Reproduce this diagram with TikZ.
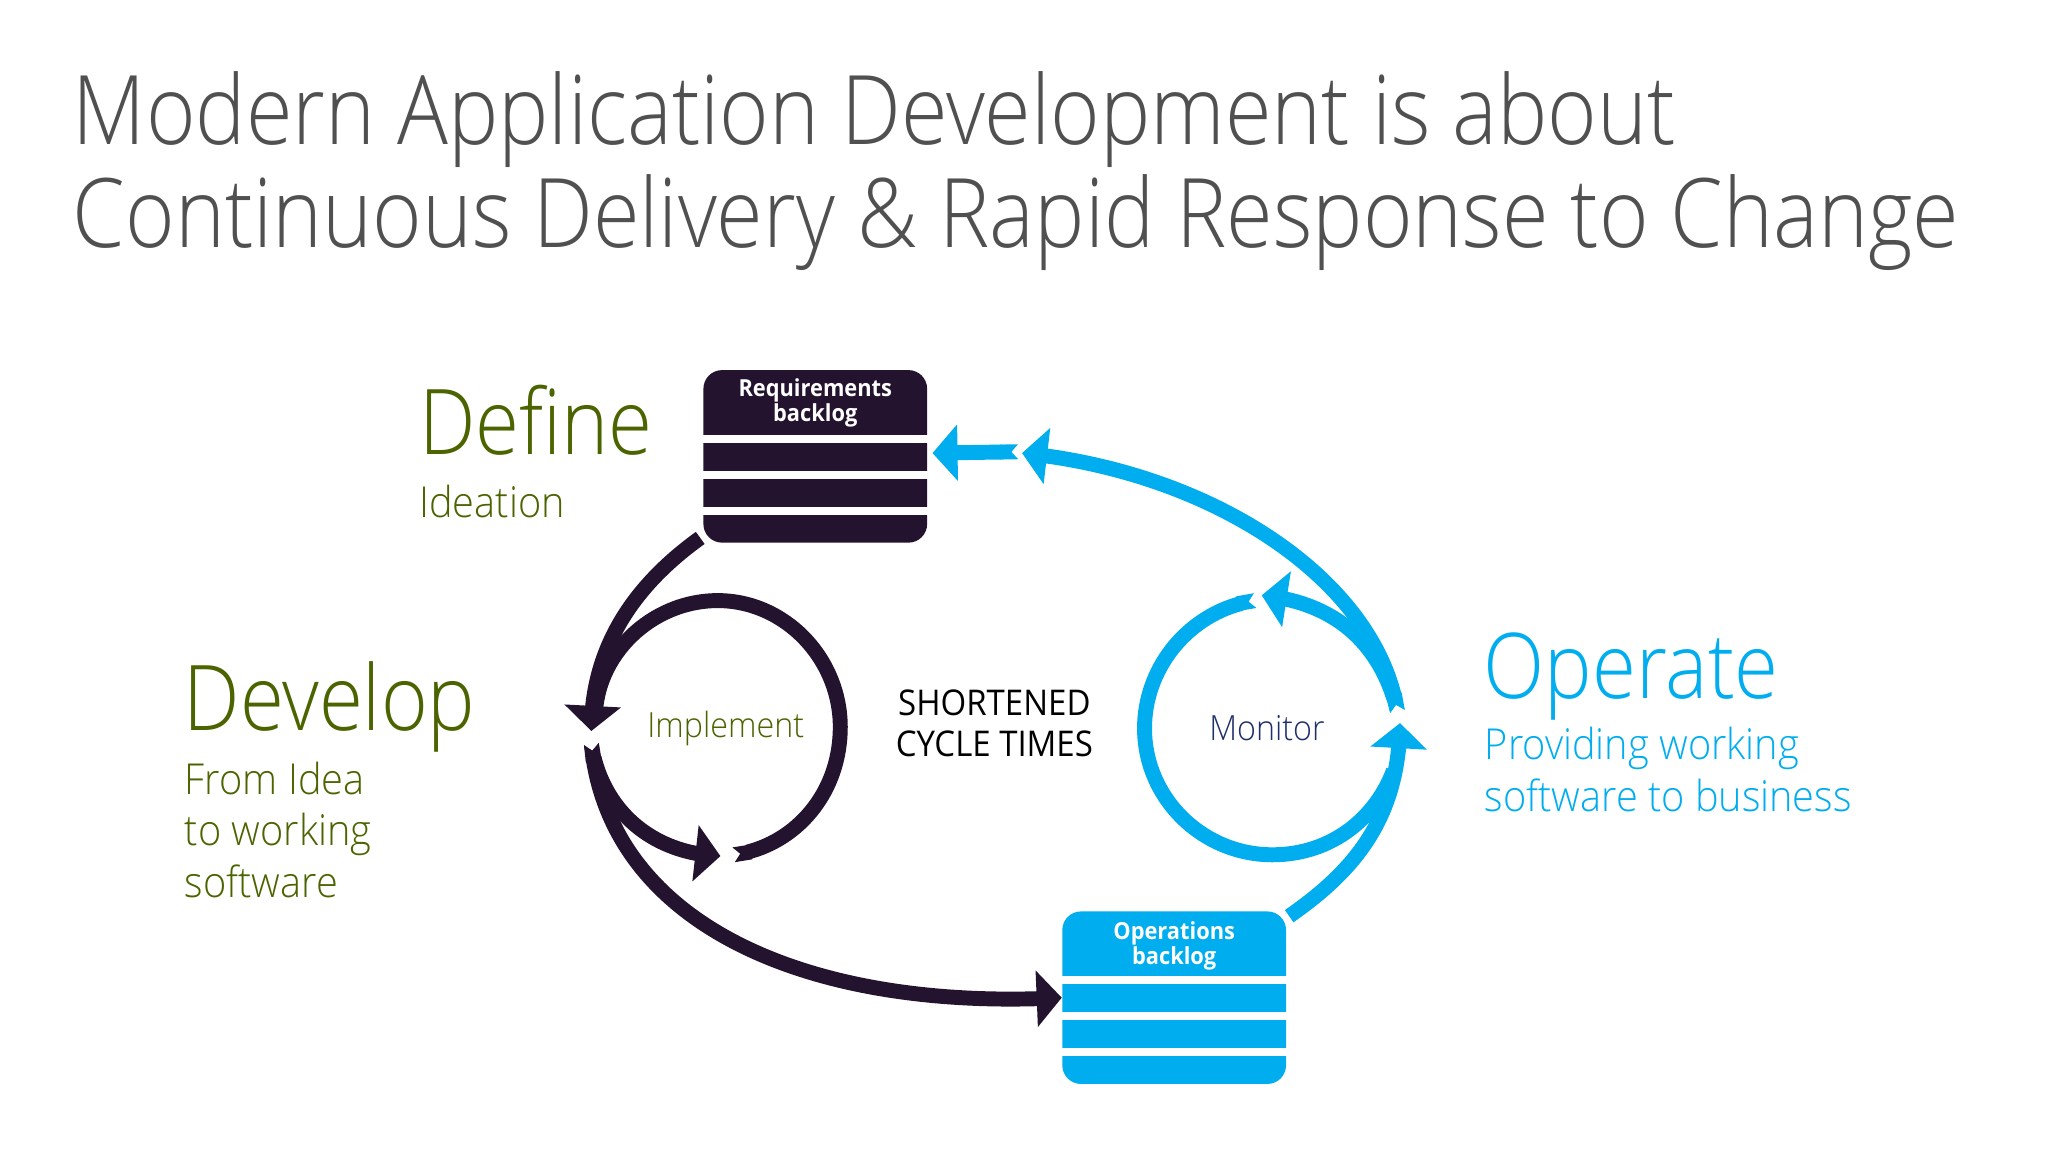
\documentclass[tikz,border=0pt]{standalone}
\usepackage{fontspec}
\setmainfont{Open Sans}[FakeStretch=0.93]
\newfontfamily\lightf{Open Sans Light}[FakeStretch=0.882]
\newfontfamily\subf{Open Sans Light}[FakeStretch=0.93]
\usetikzlibrary{arrows.meta,bending}
\definecolor{dark}{HTML}{23132F}
\definecolor{sky}{HTML}{00ADEF}
\definecolor{leaf}{HTML}{4B6400}
\definecolor{slate}{HTML}{505050}
\definecolor{navy}{HTML}{1F2F6B}
\tikzset{
  x=0.49389pt,y=-0.49389pt,
  conn/.style={line width=5.6pt,line cap=butt},
  head/.style={-{Triangle[length=9.4pt,width=20.7pt,flex]}},
  notched/.style={{Triangle Cap[reversed,length=2.5pt]}-{Triangle[length=9.4pt,width=20.7pt,flex]}},
  tailonly/.style={{Triangle Cap[reversed,length=2.5pt]}-},
  dk/.style={conn,draw=dark},
  bl/.style={conn,draw=sky},
  box/.style={rectangle,rounded corners=7pt,minimum width=83.9pt,minimum height=64.7pt,inner sep=0pt},
  stripe/.style={rectangle,fill=white,minimum width=84.5pt,minimum height=3pt,inner sep=0pt},
  boxlabel/.style={text=white,font=\fontsize{8.8}{9.5}\selectfont\bfseries,align=center,inner sep=0pt},
  title/.style={text=slate,font=\lightf\fontsize{36}{40}\selectfont,anchor=base west,inner sep=0pt},
  big/.style={font=\lightf\fontsize{34}{40}\selectfont,anchor=base west,inner sep=0pt},
  sub/.style={font=\subf\fontsize{16}{19.3}\selectfont,anchor=base west,inner sep=0pt},
  small/.style={font=\subf\fontsize{13}{15}\selectfont,inner sep=0pt},
}
\begin{document}
\begin{tikzpicture}
\useasboundingbox[fill=white] (0pt,0pt) rectangle (768pt,-432pt);
% titles
\node[title] (t1) at (55,110) {Modern Application Development is about};
\node[title] (t2) at (55,188) {Continuous Delivery \& Rapid Response to Change};
% boxes
\node[box,fill=dark] (req) at (619,346.5) {};
\node[stripe] (rs1) at (619,333) {};
\node[stripe] (rs2) at (619,360.5) {};
\node[stripe] (rs3) at (619,388) {};
\node[boxlabel] (rl) at (619,306) {Requirements\\backlog};
\node[box,fill=sky] (ops) at (891.5,757.5) {};
\node[stripe] (os1) at (891.5,744) {};
\node[stripe] (os2) at (891.5,771.5) {};
\node[stripe] (os3) at (891.5,799) {};
\node[boxlabel] (ol) at (891.5,718) {Operations\\backlog};
% anchors of connectors
\coordinate (devTip) at (449,555);
\coordinate (devTail) at (449,565);
\coordinate (ringLeft) at (452,545);
\coordinate (ringTop) at (545,456);
\coordinate (ringRight) at (638,552);
\coordinate (ringEnd) at (557,649);
\coordinate (impTip) at (547,650);
\coordinate (monTail) at (953,456);
\coordinate (monLeft) at (869,553);
\coordinate (monBot) at (966,649);
\coordinate (opTip) at (1063,549);
\coordinate (opTail) at (1061,540);
\coordinate (monTip) at (958,452);
\coordinate (defTip) at (776,344);
\coordinate (stubTail) at (773,343);
\coordinate (stubTip) at (708,344);
% dark loop
\draw[dk,head] (req.south west)++(-2,-4) .. controls (478,447) and (449,495) .. (devTip);
\draw[dk] (ringLeft) .. controls (452,498) and (494,456) .. (ringTop)
  .. controls (596,456) and (638,500) .. (ringRight);
\draw[dk,tailonly] (ringEnd) .. controls (602,643) and (638,604) .. (ringRight);
\draw[dk,notched] (devTail) .. controls (456,612) and (492,648) .. (impTip);
\draw[dk,notched] (devTail) .. controls (462,700) and (610,768) .. (ops.west);
% blue loop
\draw[bl,notched] (stubTail) -- (stubTip);
\draw[bl,notched] (opTail) .. controls (1045,440) and (920,358) .. (defTip);
\draw[bl,notched] (opTail) .. controls (1050,495) and (1020,458) .. (monTip);
\draw[bl,tailonly] (monTail) .. controls (905,463) and (869,505) .. (monLeft)
  .. controls (869,606) and (913,649) .. (monBot)
  .. controls (1012,649) and (1045,620) .. (1058,585);
\draw[bl,head] (ops.north east)++(2,4) .. controls (1030,660) and (1062,620) .. (opTip);
% labels
\node[big,text=leaf] (def) at (318,345) {Define};
\node[sub,text=leaf] (idt) at (318,393) {Ideation};
\node[big,text=leaf] (dev) at (139,555) {Develop};
\node[sub,text=leaf,anchor=north west,align=left] (dv2) at (140,578) {From Idea\\to working\\software};
\node[small,text=leaf] (imp) at (551,553) {Implement};
\node[inner sep=0pt,align=center,text=black,font=\fontsize{13.3}{15.4}\selectfont] (sct) at (755,549) {SHORTENED\\CYCLE TIMES};
\node[small,text=navy] (mon) at (962,553) {Monitor};
\node[big,text=sky] (ope) at (1126,530) {Operate};
\node[sub,text=sky,anchor=north west,align=left] (op2) at (1127,552) {Providing working\\software to business};
\end{tikzpicture}
\end{document}
